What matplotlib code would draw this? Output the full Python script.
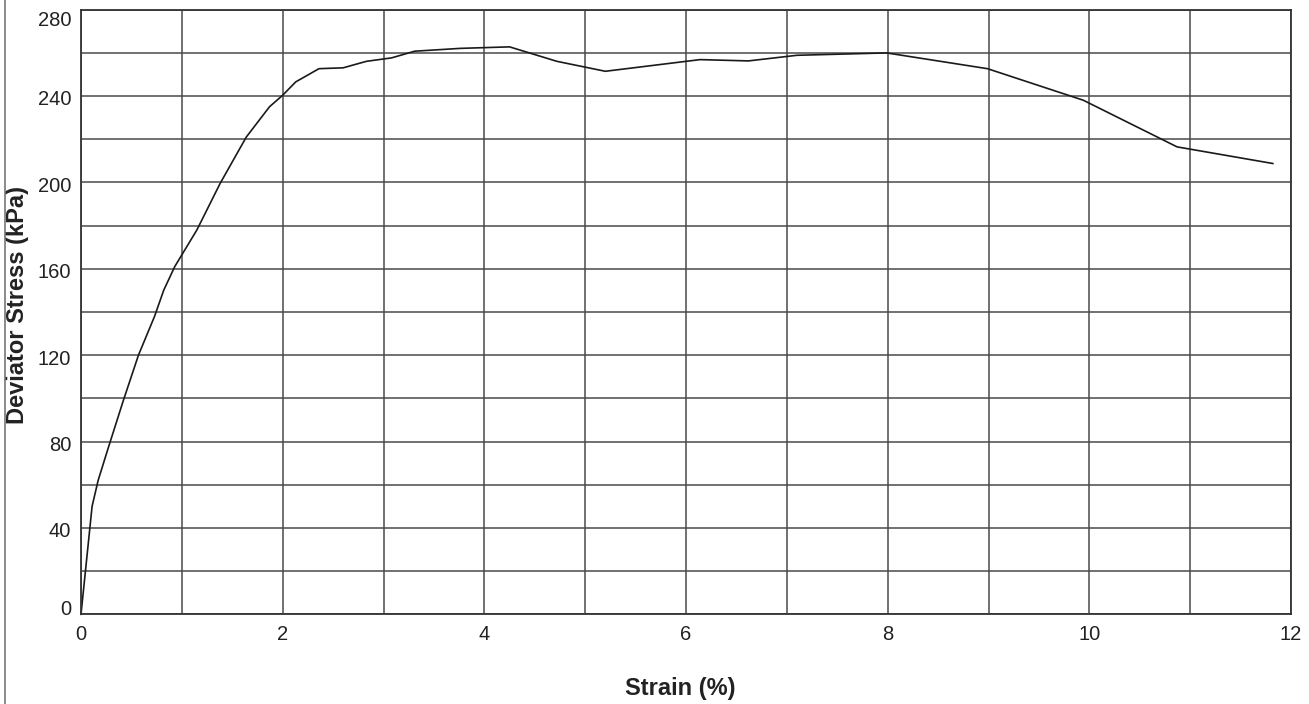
import matplotlib
matplotlib.use("Agg")
import matplotlib.pyplot as plt
import matplotlib.transforms as mtransforms
from matplotlib.lines import Line2D

strain = [0.0, 0.11, 0.17, 0.27, 0.42, 0.57, 0.73, 0.82, 0.93, 1.15, 1.38, 1.64,
          1.87, 2.0, 2.13, 2.36, 2.60, 2.83, 3.08, 3.31, 3.76, 4.25, 4.72, 5.20,
          6.14, 6.62, 7.10, 7.99, 8.99, 9.94, 10.87, 11.82]
stress = [0.0, 50.0, 62.0, 77.0, 99.0, 120.0, 138.0, 150.0, 161.0, 178.0, 199.5, 221.0,
          235.0, 240.3, 246.5, 252.6, 253.0, 256.0, 257.6, 260.7, 262.0, 262.7, 256.0, 251.4,
          256.8, 256.2, 258.8, 259.9, 252.6, 238.0, 216.4, 208.7]

x_ticks = [0, 2, 4, 6, 8, 10, 12]
y_ticks = [0, 40, 80, 120, 160, 200, 240, 280]

plt.rcParams['font.family'] = ['Liberation Sans', 'DejaVu Sans']

W, H = 1309, 704
fig = plt.figure(figsize=(W / 100, H / 100), dpi=100)
ax = fig.add_axes([81/W, 1 - 614.3/H, (1291-81)/W, (614.3-9.5)/H])

grid_color = '#4a4a4a'
ax.set_xlim(0, 12)
ax.set_ylim(0, 280)
ax.set_xticks(range(0, 13))
ax.set_yticks(range(0, 281, 20))
ax.grid(True, color=grid_color, linewidth=1.1)
ax.set_axisbelow(True)
ax.set_xticklabels([str(v) if v in x_ticks else '' for v in range(0, 13)])
ax.set_yticklabels([str(v) if v in y_ticks else '' for v in range(0, 281, 20)])
ax.tick_params(length=0, labelsize=14.5, colors='#222222')
ax.tick_params(axis='y', pad=7)
ax.tick_params(axis='x', pad=8)
for s in ax.spines.values():
    s.set_color('#333333')
    s.set_linewidth(1.3)

# keep the end labels of the y axis inside the axis span, as in the reference
for lab in ax.get_yticklabels():
    txt = lab.get_text()
    if txt == '280':
        dy = -9
    elif txt == '0':
        dy = 7
    else:
        dy = -2
    lab.set_transform(lab.get_transform() +
                      mtransforms.ScaledTranslation(0, dy / 100, fig.dpi_scale_trans))

ax.plot(strain, stress, color='#1a1a1a', linewidth=1.2, clip_on=False)

ax_w = 1291 - 81
ax_h = 614.3 - 9.5
ax.set_xlabel('Strain (%)', fontsize=17, fontweight='bold', color='#222222',
              va='center')
ax.xaxis.set_label_coords((680 - 81) / ax_w, -(689 - 614.3) / ax_h)
ax.set_ylabel('Deviator Stress (kPa)', fontsize=17, fontweight='bold', color='#222222',
              va='center', ha='center')
ax.yaxis.set_label_coords((18 - 81) / ax_w, (614.3 - 305) / ax_h)

fig.add_artist(Line2D([5/W, 5/W], [0, 1], transform=fig.transFigure,
                      color='#777777', linewidth=1.2))

fig.savefig('out.png', dpi=100, facecolor='white')
